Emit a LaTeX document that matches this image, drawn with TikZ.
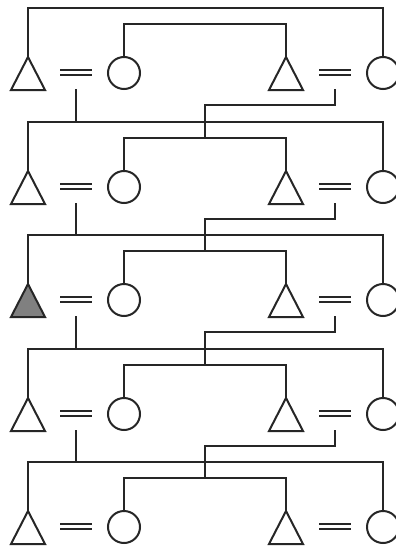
\documentclass[tikz,border=0pt]{standalone}
\begin{document}
\begin{tikzpicture}[x=1pt,y=-1pt,
  ln/.style={draw=black!85, line width=2pt, line join=miter},
  female/.style={ln, circle, minimum size=32pt, inner sep=0pt},
  male/.style={ln},
  affected/.style={fill=black!50}]
\useasboundingbox[fill=white] (0,0) rectangle (396,546);
\foreach \r in {0,...,4}{
  \pgfmathtruncatemacro{\d}{round(\r*113.5)}
  % symbol anchors
  \coordinate (LT\r) at (28,57+\d);
  \coordinate (RT\r) at (286,57+\d);
  \node[female] (LC\r) at (124,73+\d) {};
  \node[female] (RC\r) at (383,73+\d) {};
  % triangles
  \ifnum\r=2
    \draw[male,affected] (LT\r) -- (11,90+\d) -- (45,90+\d) -- cycle;
  \else
    \draw[male] (LT\r) -- (11,90+\d) -- (45,90+\d) -- cycle;
  \fi
  \draw[male] (RT\r) -- (269,90+\d) -- (303,90+\d) -- cycle;
  % marriage lines
  \coordinate (EL\r) at (76,73+\d);
  \coordinate (ER\r) at (335,73+\d);
  \draw[ln] (60,70+\d) -- (92,70+\d) (60,75+\d) -- (92,75+\d);
  \draw[ln] (319,70+\d) -- (351,70+\d) (319,75+\d) -- (351,75+\d);
  % sibship lines
  \coordinate (S1\r) at (205,8+\d);
  \coordinate (S2\r) at (205,24+\d);
  \draw[ln] (LT\r) -- (LT\r |- S1\r) -- (RC\r.north |- S1\r) -- (RC\r.north);
  \draw[ln] (LC\r.north) -- (LC\r.north |- S2\r) -- (RT\r |- S2\r) -- (RT\r);
}
% descent lines
\foreach \r/\n in {0/1,1/2,2/3,3/4}{
  \draw[ln] ([yshift=-16pt]EL\r) -- (EL\r |- S1\n);
  \draw[ln] ([yshift=-16pt]ER\r) -- ([yshift=-32pt]ER\r) -| (S2\n);
}
\end{tikzpicture}
\end{document}
